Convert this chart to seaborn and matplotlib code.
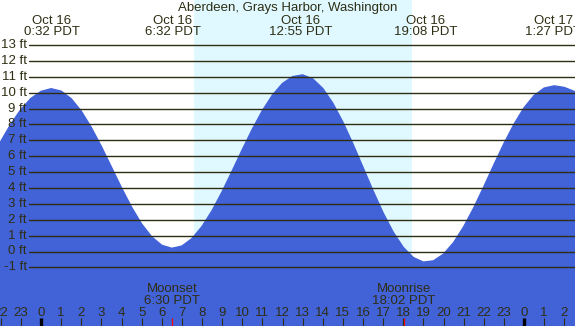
import seaborn as sns
import matplotlib.pyplot as plt
import matplotlib.transforms as mtransforms

# tide heights (ft), hours from midnight Oct 16 (PDT)
tide_hours = [-2.5, -2.0, -1.5, -1.0, -0.5, 0.0, 0.5, 1.0, 1.5, 2.0, 2.5, 3.0, 3.5,
              4.0, 4.5, 5.0, 5.5, 6.0, 6.5, 7.0, 7.5, 8.0, 8.5, 9.0, 9.5, 10.0,
              10.5, 11.0, 11.5, 12.0, 12.5, 13.0, 13.5, 14.0, 14.5, 15.0, 15.5,
              16.0, 16.5, 17.0, 17.5, 18.0, 18.5, 19.0, 19.5, 20.0, 20.5, 21.0,
              21.5, 22.0, 22.5, 23.0, 23.5, 24.0, 24.5, 25.0, 25.5, 26.0, 26.5, 27.0]
tide_ft = [5.74, 6.93, 8.02, 8.94, 9.64, 10.08, 10.25, 10.10, 9.62, 8.84, 7.81, 6.61, 5.31,
           4.01, 2.79, 1.73, 0.92, 0.39, 0.20, 0.34, 0.81, 1.57, 2.57, 3.76, 5.07, 6.41,
           7.70, 8.87, 9.85, 10.58, 11.01, 11.12, 10.87, 10.27, 9.34, 8.15, 6.77,
           5.30, 3.82, 2.43, 1.22, 0.26, -0.38, -0.67, -0.59, -0.17, 0.56, 1.55,
           2.74, 4.07, 5.45, 6.79, 8.01, 9.05, 9.82, 10.29, 10.43, 10.33, 10.08, 9.70]

# high / low tides
extreme_hours = [0.533, 6.533, 12.917, 19.133, 25.45]
extreme_dates = ["Oct 16", "Oct 16", "Oct 16", "Oct 16", "Oct 17"]
extreme_times = ["0:32 PDT", "6:32 PDT", "12:55 PDT", "19:08 PDT", "1:27 PDT"]

sunrise = 7.6
sunset = 18.43
moon_hours = [6.5, 18.033]
moon_names = ["Moonset", "Moonrise"]
moon_times = ["6:30 PDT", "18:02 PDT"]

ft_levels = list(range(-1, 14))
tick_hours = list(range(-2, 27))

title = "Aberdeen, Grays Harbor, Washington"

night = "#b0c4de"
day = "#e0f8ff"
water = "#4262d8"
ink = "#2e2e14"
fs = 9.5

W, H = 575, 326
sns.set_theme(style="white")
plt.rcParams['font.family'] = ['Liberation Sans', 'DejaVu Sans']

fig = plt.figure(figsize=(W / 100, H / 100), dpi=100)
ax = fig.add_axes([0, 0, 1, 1])
ax.set_facecolor(night)

# pixel layout: x = 41 + 20.125*hour, y = 251.5 - 15.88*ft
ax.set_xlim(-41 / 20.125, (W - 41) / 20.125)
ax.set_ylim(-(H - 251.5) / 15.88, 251.5 / 15.88)
ax.axis("off")

def yfrac(py):
    return 1 - py / H

ax.axvspan(sunrise, sunset, color=day, zorder=0, lw=0)

ax.fill_between(tide_hours, tide_ft, -10, color=water, lw=0, zorder=1)
sns.lineplot(x=tide_hours, y=tide_ft, color=water, lw=1, ax=ax, zorder=1)

ytr = mtransforms.blended_transform_factory(ax.transAxes, ax.transData)
for lev in ft_levels:
    ax.axhline(lev, xmin=29 / W, xmax=1, color=ink, lw=1.0, zorder=2)
    ax.text(27 / W, lev, f"{lev} ft", transform=ytr,
            ha="right", va="center", fontsize=fs, color=ink, zorder=3)

tr = mtransforms.blended_transform_factory(ax.transData, ax.transAxes)

ax.text(0.5, yfrac(10.5), title, transform=ax.transAxes, ha="center", va="baseline",
        fontsize=fs, color=ink)
for h, d, t in zip(extreme_hours, extreme_dates, extreme_times):
    ax.text(h, yfrac(23.5), d, transform=tr, ha="center", va="baseline", fontsize=fs, color=ink)
    ax.text(h, yfrac(35), t, transform=tr, ha="center", va="baseline", fontsize=fs, color=ink)

for h, n, t in zip(moon_hours, moon_names, moon_times):
    ax.text(h, yfrac(292), n, transform=tr, ha="center", va="baseline", fontsize=fs, color=ink, zorder=3)
    ax.text(h, yfrac(304), t, transform=tr, ha="center", va="baseline", fontsize=fs, color=ink, zorder=3)
    ax.plot([h, h], [yfrac(318), 0], transform=tr, color="red", lw=0.9, zorder=4,
            solid_capstyle="butt")

for h in tick_hours:
    ax.text(h, yfrac(316), str(h % 24), transform=tr, ha="center", va="baseline",
            fontsize=fs, color=ink, zorder=3)
    if h % 24 == 0:
        ax.plot([h, h], [yfrac(318), 0], transform=tr, color="black", lw=2.4, zorder=4,
                solid_capstyle="butt")
    else:
        ax.plot([h, h], [yfrac(318), 0], transform=tr, color=ink, lw=0.8, zorder=4,
                solid_capstyle="butt")

fig.savefig("out.png", dpi=100)
